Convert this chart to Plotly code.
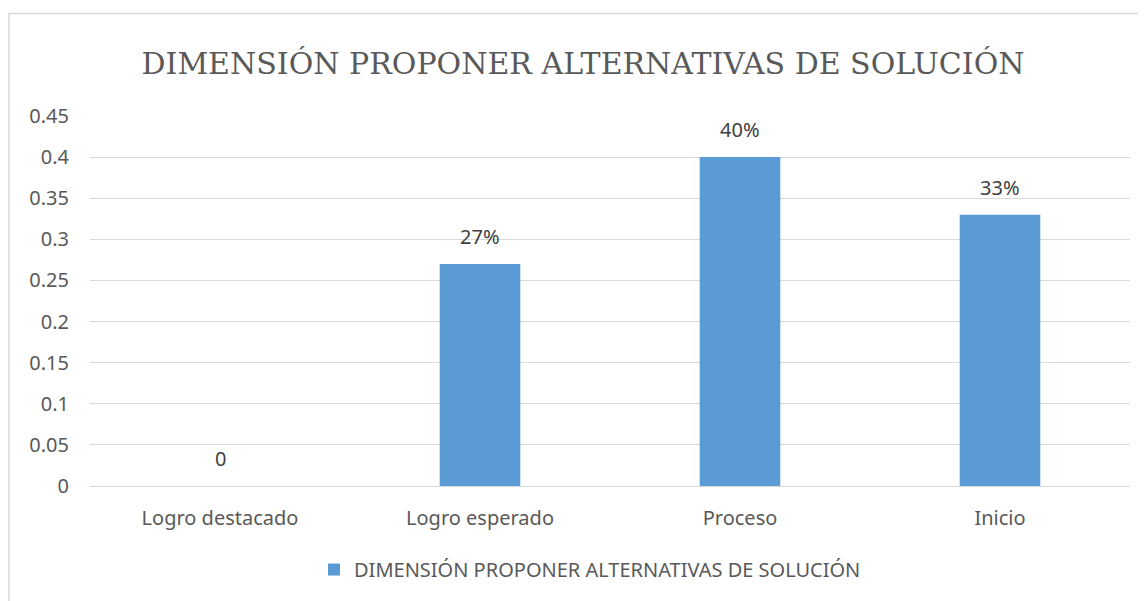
import plotly.graph_objects as go

categories = ["Logro destacado", "Logro esperado", "Proceso", "Inicio"]
values = [0, 0.27, 0.40, 0.33]
labels = ["0", "27%", "40%", "33%"]
tick_vals = [0, 0.05, 0.1, 0.15, 0.2, 0.25, 0.3, 0.35, 0.4, 0.45]
tick_text = ["0", "0.05", "0.1", "0.15", "0.2", "0.25", "0.3", "0.35", "0.4", "0.45"]
series_name = "DIMENSIÓN PROPONER ALTERNATIVAS DE SOLUCIÓN"
title_text = "DIMENSIÓN PROPONER ALTERNATIVAS DE SOLUCIÓN"

# page is offset by the 8px body margin
OFF = 8
W, H = 1146 - OFF, 601 - OFF
L, T = 90 - OFF, 116 - OFF
R = W - (1130 - OFF)
B = H - (488 - OFF)
pw = W - L - R
ph = H - T - B

FONT = "Noto Sans"
GREY = "#595959"

fig = go.Figure()
fig.add_trace(go.Bar(
    x=categories, y=values, name=series_name,
    marker=dict(color="#5b9bd5", line=dict(width=0)),
    width=0.31,
    showlegend=True,
))

for c, v, t in zip(categories, values, labels):
    fig.add_annotation(x=c, y=v, xref="x", yref="y", text=t, showarrow=False,
                       yanchor="bottom", yshift=12,
                       font=dict(family=FONT, size=20, color="#404040"))

def px_x(p):
    return (p - OFF - L) / pw

def px_y(p):
    return (H - B - (p - OFF)) / ph

fig.update_layout(
    width=W, height=H,
    margin=dict(l=L, r=R, t=T, b=B),
    paper_bgcolor="white", plot_bgcolor="white",
    title=dict(text=title_text, x=(583 - OFF) / W, xanchor="center",
               y=1 - (63 - OFF) / H, yanchor="middle",
               font=dict(family="DejaVu Serif", size=30, color=GREY)),
    xaxis=dict(showgrid=False, showline=False, ticks="", ticklabelstandoff=18,
               tickfont=dict(family=FONT, size=20, color=GREY)),
    yaxis=dict(range=[0, 0.45], tickvals=tick_vals, ticktext=tick_text,
               showgrid=True, gridcolor="#d9d9d9", gridwidth=1,
               zeroline=True, zerolinecolor="#d9d9d9", zerolinewidth=1,
               showline=False, ticks="", ticklabelstandoff=20,
               tickfont=dict(family=FONT, size=20, color=GREY)),
    legend=dict(orientation="h", x=px_x(590), xanchor="center",
                y=px_y(572), yanchor="middle",
                font=dict(family=FONT, size=20, color=GREY)),
    shapes=[dict(type="rect", xref="paper", yref="paper",
                 x0=px_x(9), x1=px_x(1160), y0=px_y(620), y1=px_y(13),
                 line=dict(color="#d9d9d9", width=1.5), fillcolor="rgba(0,0,0,0)",
                 layer="below")],
)

fig.write_html("out.html")
